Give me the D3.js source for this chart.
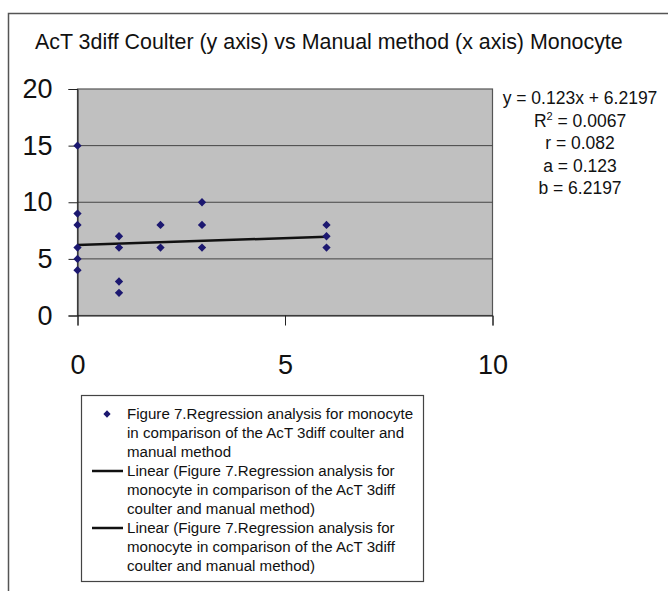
<!DOCTYPE html>
<html><head><meta charset="utf-8">
<script src="https://cdn.jsdelivr.net/npm/d3@7"></script>
<style>body{margin:0;background:#fff;} svg{display:block;font-family:"Liberation Sans",Arial,sans-serif;}</style>
</head><body>
<svg id="c" width="668" height="591"></svg>
<script>
const title = "AcT 3diff Coulter (y axis) vs Manual method (x axis) Monocyte";
const xValues = [0,0,0,0,0,0, 1,1,1,1, 2,2, 3,3,3, 6,6,6];
const yValues = [15,9,8,6,5,4, 7,6,3,2, 8,6, 10,8,6, 8,7,6];
const xTicks = [0,5,10];
const yTicks = [0,5,10,15,20];
const slope = 0.123, intercept = 6.2197;
const trendRange = [0,6];
const statLines = ["y = 0.123x + 6.2197", "R2 = 0.0067", "r = 0.082", "a = 0.123", "b = 6.2197"];
const legendLines = [
  ["Figure 7.Regression analysis for monocyte","in comparison of the AcT 3diff coulter and","manual method"],
  ["Linear (Figure 7.Regression analysis for","monocyte in comparison of the AcT 3diff","coulter and manual method)"],
  ["Linear (Figure 7.Regression analysis for","monocyte in comparison of the AcT 3diff","coulter and manual method)"]
];

const svg = d3.select("#c");
svg.append("rect").attr("x",8.5).attr("y",13.5).attr("width",700).attr("height",700)
  .attr("fill","#fff").attr("stroke","#555").attr("stroke-width",1.5);

svg.append("text").attr("x",35).attr("y",48.5).attr("font-size",21.4).attr("fill","#111").text(title);

const pl = 77.5, pr = 492.5, pt = 89, pb = 315.5;
const x = d3.scaleLinear().domain([0,10]).range([pl,pr]);
const y = d3.scaleLinear().domain([0,20]).range([pb,pt]);

svg.append("rect").attr("x",pl).attr("y",pt).attr("width",pr-pl).attr("height",pb-pt)
  .attr("fill","#c0c0c0").attr("stroke","#555").attr("stroke-width",1.2);

svg.append("g").selectAll("line").data(yTicks.filter(d=>d>0&&d<20)).join("line")
  .attr("x1",pl).attr("x2",pr).attr("y1",d=>y(d)).attr("y2",d=>y(d))
  .attr("stroke","#444").attr("stroke-width",1);

const ya = svg.append("g").attr("transform",`translate(${pl},0)`)
  .call(d3.axisLeft(y).tickValues(yTicks).tickSize(9).tickPadding(16).tickFormat(d3.format("d")));
ya.select(".domain").attr("stroke","#222");
ya.selectAll(".tick line").attr("stroke","#222");
ya.selectAll("text").attr("font-size",27).attr("fill","#111").attr("font-family","Liberation Sans, Arial, sans-serif");

const xa = svg.append("g").attr("transform",`translate(0,${pb})`)
  .call(d3.axisBottom(x).tickValues(xTicks).tickSize(10).tickPadding(29).tickFormat(d3.format("d")));
xa.select(".domain").attr("stroke","#222");
xa.selectAll(".tick line").attr("stroke","#222");
xa.selectAll("text").attr("font-size",27).attr("fill","#111").attr("font-family","Liberation Sans, Arial, sans-serif");

svg.append("line").attr("x1",x(trendRange[0])).attr("y1",y(slope*trendRange[0]+intercept))
  .attr("x2",x(trendRange[1])).attr("y2",y(slope*trendRange[1]+intercept))
  .attr("stroke","#111").attr("stroke-width",2.5);

const diamond = d3.symbol().type(d3.symbolDiamond2).size(44);
svg.append("g").selectAll("path").data(xValues.map((v,i)=>[v,yValues[i]])).join("path")
  .attr("d",diamond).attr("transform",d=>`translate(${x(d[0])},${y(d[1])})`)
  .attr("fill","#1c1870");

const st = svg.append("g").attr("font-size",17.5).attr("fill","#111").attr("text-anchor","middle");
statLines.forEach((s,i)=>{
  const t = st.append("text").attr("x",580).attr("y",104+i*22.5);
  if (s.startsWith("R2")) {
    t.append("tspan").text("R");
    t.append("tspan").attr("font-size",11).attr("dy",-7).text("2");
    t.append("tspan").attr("dy",7).text(" = 0.0067");
  } else t.text(s);
});

svg.append("rect").attr("x",81.5).attr("y",395.5).attr("width",342).attr("height",186)
  .attr("fill","#fff").attr("stroke","#444").attr("stroke-width",1.2);
const lg = svg.append("g").attr("font-size",15.1).attr("fill","#111");
legendLines.forEach((lines,k)=>{
  const base = 414 + k*3*19;
  if (k===0) lg.append("path").attr("d",d3.symbol().type(d3.symbolDiamond2).size(34)).attr("transform",`translate(107,${base})`).attr("fill","#1c1870");
  else lg.append("line").attr("x1",92).attr("x2",123).attr("y1",base).attr("y2",base).attr("stroke","#111").attr("stroke-width",2.5);
  lines.forEach((l,j)=>lg.append("text").attr("x",127).attr("y",base+5+j*19).text(l));
});
</script>
</body></html>
